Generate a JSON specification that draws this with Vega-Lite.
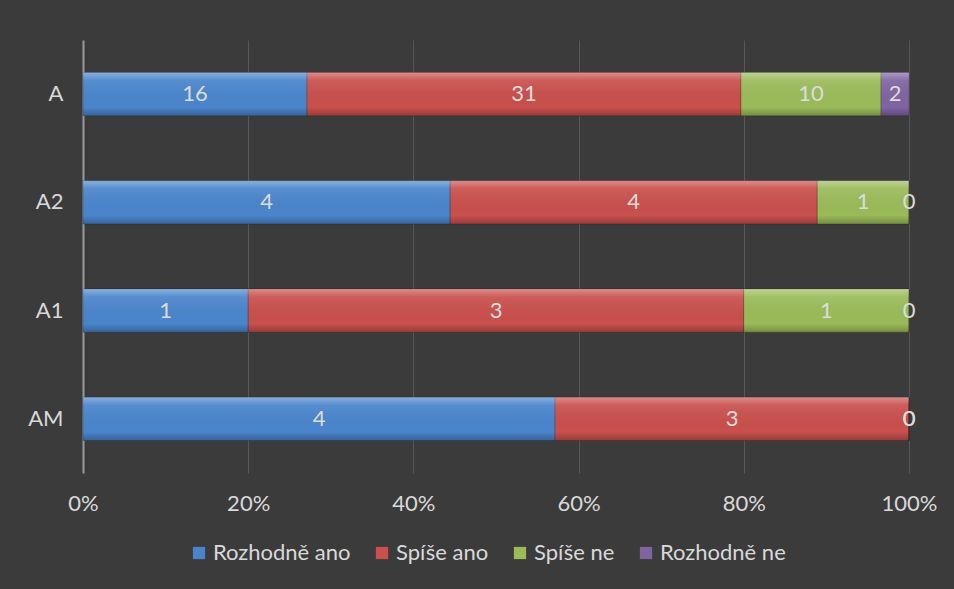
{
  "$schema": "https://vega.github.io/schema/vega-lite/v6.json",
  "autosize": "none",
  "width": 826,
  "height": 433,
  "padding": {"left": 83, "top": 40, "right": 45, "bottom": 116},
  "background": "#3b3b3b",
  "config": {
    "font": "Lato",
    "view": {"stroke": null},
    "axis": {"labelFont": "Lato", "labelFontSize": 22, "labelColor": "#d9d9d9", "title": null}
  },
  "data": {
    "values": [
      {"cat": "A", "resp": "Rozhodně ano", "o": 1, "n": 16},
      {"cat": "A", "resp": "Spíše ano", "o": 2, "n": 31},
      {"cat": "A", "resp": "Spíše ne", "o": 3, "n": 10},
      {"cat": "A", "resp": "Rozhodně ne", "o": 4, "n": 2},
      {"cat": "A2", "resp": "Rozhodně ano", "o": 1, "n": 4},
      {"cat": "A2", "resp": "Spíše ano", "o": 2, "n": 4},
      {"cat": "A2", "resp": "Spíše ne", "o": 3, "n": 1},
      {"cat": "A2", "resp": "Rozhodně ne", "o": 4, "n": 0},
      {"cat": "A1", "resp": "Rozhodně ano", "o": 1, "n": 1},
      {"cat": "A1", "resp": "Spíše ano", "o": 2, "n": 3},
      {"cat": "A1", "resp": "Spíše ne", "o": 3, "n": 1},
      {"cat": "A1", "resp": "Rozhodně ne", "o": 4, "n": 0},
      {"cat": "AM", "resp": "Rozhodně ano", "o": 1, "n": 4},
      {"cat": "AM", "resp": "Spíše ano", "o": 2, "n": 3},
      {"cat": "AM", "resp": "Spíše ne", "o": 3, "n": 0},
      {"cat": "AM", "resp": "Rozhodně ne", "o": 4, "n": 0}
    ]
  },
  "transform": [
    {"stack": "n", "groupby": ["cat"], "sort": [{"field": "o", "order": "ascending"}], "offset": "normalize", "as": ["x0", "x1"]},
    {"calculate": "(datum.x0 + datum.x1) / 2", "as": "xm"}
  ],
  "encoding": {
    "y": {
      "field": "cat", "type": "nominal", "sort": ["A", "A2", "A1", "AM"],
      "scale": {"paddingInner": 0.6, "paddingOuter": 0.3},
      "axis": {"ticks": false, "domain": true, "domainColor": "#9a9a9a", "domainWidth": 2, "labelPadding": 20, "grid": false}
    }
  },
  "layer": [
    {
      "mark": {"type": "bar", "stroke": "#00000033", "strokeWidth": 1},
      "encoding": {
        "x": {
          "field": "x0", "type": "quantitative", "scale": {"domain": [0, 1], "nice": false},
          "axis": {"format": "%", "values": [0, 0.2, 0.4, 0.6, 0.8, 1], "labelOverlap": false, "labelFlush": false, "ticks": false, "domain": false, "grid": true, "gridColor": "#575757", "gridWidth": 1, "labelPadding": 20}
        },
        "x2": {"field": "x1"},
        "color": {
          "field": "resp", "type": "nominal",
          "scale": {"domain": ["Rozhodně ano", "Spíše ano", "Spíše ne", "Rozhodně ne"], "range": ["#4a85cc", "#c9504d", "#9bbb59", "#8064a2"]},
          "legend": {
            "title": null, "orient": "none", "direction": "horizontal", "legendX": 105, "legendY": 502,
            "labelFont": "Lato", "labelFontSize": 22, "labelColor": "#d9d9d9", "symbolType": "square", "symbolSize": 150,
            "symbolStrokeWidth": 0, "columnPadding": 20, "labelOffset": 3
          }
        }
      }
    },
    {
      "mark": {
        "type": "bar",
        "color": {
          "gradient": "linear", "x1": 0, "y1": 0, "x2": 0, "y2": 1,
          "stops": [
            {"offset": 0, "color": "rgba(255,255,255,0.35)"},
            {"offset": 0.18, "color": "rgba(255,255,255,0.08)"},
            {"offset": 0.8, "color": "rgba(0,0,0,0.0)"},
            {"offset": 1, "color": "rgba(0,0,0,0.25)"}
          ]
        }
      },
      "encoding": {
        "x": {"field": "x0", "type": "quantitative"},
        "x2": {"field": "x1"}
      }
    },
    {
      "mark": {"type": "text", "fontSize": 22, "color": "#dcdcdc", "font": "Lato"},
      "encoding": {
        "x": {"field": "xm", "type": "quantitative"},
        "text": {"field": "n", "type": "quantitative"}
      }
    }
  ]
}
